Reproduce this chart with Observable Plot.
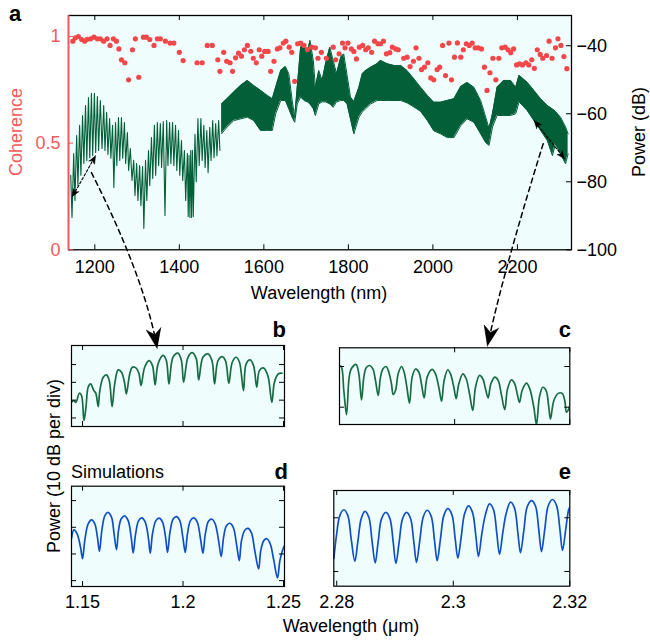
<!DOCTYPE html>
<html>
<head>
<meta charset="utf-8">
<script src="https://cdn.jsdelivr.net/npm/d3@7"></script>
<script src="https://cdn.jsdelivr.net/npm/@observablehq/plot@0.6"></script>
<style>
html,body{margin:0;padding:0;background:#ffffff;}
#fig{position:relative;width:650px;height:640px;overflow:hidden;font-family:"Liberation Sans",Arial,Helvetica,sans-serif;color:#000;}
#fig svg{position:absolute;overflow:visible;}
.lbl{position:absolute;white-space:nowrap;}
</style>
</head>
<body>
<div id="fig"></div>
<script>
// ================= DATA =================
// Panel a: scales / ticks
const aXDomain = [1137.7, 2328];
const powerDomain = [-100, -31.1];
const cohDomain = [0, 1.0985];
const aXTicks = [1200, 1400, 1600, 1800, 2000, 2200];
const powerTicks = [-100, -80, -60, -40];
const cohTicks = [0, 0.5, 1];

// Coherence (red dots)
const cohLam = [
 1148,1154,1161,1169,1176,1182,1190,1198,1206,1213,
 1221,1229,1236,1244,1251,1257,1263,1271,1280,1289,
 1296,1304,1315,1322,1330,1340,1348,1355,1367,1378,
 1387,1400,1409,1442,1454,1466,1478,1491,1496,1505,
 1512,1520,1526,1533,1540,1547,1554,1561,1569,1575,
 1582,1589,1595,1602,1610,1616,1624,1632,1638,1646,
 1652,1660,1666,1673,1680,1687,1695,1703,1713,1722,
 1728,1736,1748,1764,1770,1778,1786,1792,1799,1807,
 1813,1819,1826,1834,1841,1847,1855,1862,1870,1876,
 1883,1890,1898,1904,1912,1918,1931,1939,1946,1954,
 1960,1967,1973,1980,1988,1995,2002,2010,2016,2023,
 2030,2038,2044,2051,2058,2066,2072,2079,2086,2093,
 2100,2107,2115,2122,2128,2135,2142,2149,2156,2163,
 2171,2178,2184,2191,2198,2205,2212,2220,2227,2234,
 2240,2247,2254,2260,2269,2275,2282,2290,2296,2303,
 2310,2317];
const cohVal = [
 0.978,0.994,1.0,0.986,0.978,0.987,0.989,0.997,0.989,0.989,
 0.978,0.989,0.958,0.989,0.978,0.942,0.891,0.877,0.797,0.938,
 0.989,0.809,0.997,0.997,0.986,0.958,0.989,0.989,0.978,0.969,
 0.969,0.926,0.887,0.877,0.877,0.958,0.958,0.891,0.837,0.926,
 0.884,0.877,0.837,0.900,0.922,0.908,0.938,0.958,0.931,0.898,
 0.877,0.938,0.908,0.930,0.930,0.837,0.884,0.942,0.947,0.969,
 0.978,0.950,0.926,0.790,0.966,0.969,0.958,0.939,0.950,0.947,
 0.898,0.926,0.898,0.950,0.891,0.919,0.969,0.947,0.969,0.942,
 0.930,0.895,0.950,0.958,0.938,0.947,0.926,0.978,0.966,0.966,
 0.978,0.919,0.924,0.950,0.942,0.938,0.898,0.903,0.859,0.884,
 0.947,0.898,0.845,0.856,0.877,0.806,0.797,0.845,0.856,0.958,
 0.817,0.969,0.797,0.903,0.970,0.903,0.938,0.966,0.958,0.969,
 0.947,0.947,0.942,0.856,0.747,0.830,0.898,0.797,0.898,0.947,
 0.950,0.938,0.924,0.942,0.867,0.872,0.867,0.877,0.867,0.891,
 0.851,0.938,0.916,0.898,0.911,0.978,0.898,0.947,0.989,0.958,
 0.906,0.849];

// Spectrum, resolved fringes 1140-1500 nm: [peak nm, peak dB, trough nm, trough dB]
const sparseFringes = [
 [1143,-78.1,1146,-90.5],[1150,-71.7,1153,-85.5],[1157,-66.4,1160,-81.1],[1164,-63.4,1167,-78.1],
 [1171,-60.5,1174,-74.6],[1178,-57.6,1181,-73.7],[1185,-55.2,1188,-72.9],[1192,-54.0,1195,-72.3],
 [1199,-54.0,1202,-71.4],[1206,-54.9,1209,-70.8],[1213,-56.1,1217,-70.2],[1221,-57.6,1224,-70.8],
 [1228,-59.6,1231,-72.0],[1235,-61.4,1238,-73.1],[1242,-63.4,1245,-81.7],[1249,-62.6,1252,-75.2],
 [1256,-61.1,1259,-73.7],[1263,-61.1,1266,-73.1],[1270,-62.6,1273,-74.6],[1277,-65.5,1280,-76.7],
 [1284,-70.2,1288,-79.6],[1292,-73.7,1295,-84.0],[1299,-74.6,1302,-85.5],[1306,-75.2,1309,-87.0],
 [1313,-75.5,1316,-93.7],[1320,-73.7,1323,-85.5],[1327,-70.8,1330,-81.1],[1334,-67.0,1337,-79.0],
 [1341,-63.4,1344,-78.1],[1348,-62.6,1351,-75.2],[1355,-62.9,1358,-75.8],[1362,-62.3,1366,-89.9],
 [1370,-62.0,1373,-75.2],[1377,-62.6,1380,-74.6],[1384,-62.6,1387,-75.2],[1391,-63.4,1394,-76.7],
 [1398,-64.9,1401,-78.1],[1405,-67.9,1408,-79.6],[1412,-70.8,1415,-85.5],[1419,-71.7,1421,-90.2],
 [1423,-72.3,1425,-90.5],[1427,-70.8,1429,-90.5],[1431,-70.8,1433,-90.2],[1437,-66.0,1440,-80.0],
 [1444,-61.4,1447,-75.2],[1451,-61.4,1454,-73.7],[1458,-63.4,1461,-75.8],[1465,-64.9,1468,-77.3],
 [1472,-64.0,1475,-73.7],[1479,-62.0,1482,-72.9],[1486,-62.9,1489,-72.3],[1493,-62.0,1496,-70.8]];

// Spectrum, dense fringes 1500-2320 nm: upper / lower envelope (dB)
const bandLam = [
 1500,1513,1529,1545,1561,1576,1592,1608,1620,1628,
 1640,1651,1659,1667,1673,1679,1687,1695,1703,1709,
 1717,1722,1730,1738,1746,1756,1764,1772,1782,1789,
 1797,1805,1813,1825,1833,1841,1853,1868,1876,1892,
 1908,1924,1939,1955,1971,1987,2002,2018,2034,2050,
 2066,2081,2097,2113,2125,2133,2141,2152,2168,2184,
 2196,2204,2223,2239,2255,2271,2283,2290,2302,2314,
 2320];
const bandHi = [
 -57.1,-55.6,-53.6,-51.7,-50.2,-51.7,-53.1,-54.6,-55.6,-52.2,
 -47.3,-46.1,-48.2,-56.1,-61,-52.2,-40.4,-39.4,-42.4,-38.4,
 -44.3,-52.2,-47.3,-50.2,-45.3,-40.4,-44.3,-48.2,-43.4,-42.4,
 -48.7,-55.1,-56.4,-52.2,-48.2,-47.3,-46.3,-45.3,-44.3,-45.3,
 -45.8,-45.8,-47.3,-49.7,-52.2,-54.6,-56.6,-56.6,-56.1,-55.6,
 -52,-50.8,-52.2,-56.1,-61,-64.3,-60,-52.2,-50.2,-50.2,
 -52.2,-48.7,-50.7,-53.1,-55.6,-57.6,-58.6,-59.3,-61,-63.9,
 -65.9];
const bandLo = [
 -65.9,-63.9,-62,-61.5,-61,-62,-64.9,-64.9,-64.9,-60,
 -56.1,-56.1,-58.5,-61,-62.5,-57.1,-55.1,-56.1,-56.5,-57.1,
 -58.5,-60.5,-57.1,-56.5,-56.5,-57.1,-58.1,-56.5,-56.1,-56.1,
 -57.1,-61.5,-65.9,-61,-59.5,-58.5,-57.1,-56.1,-56.1,-56.1,
 -56.1,-56.1,-56.8,-58,-59.3,-62,-65,-65.9,-67,-67,
 -63.5,-61.5,-62.5,-65.9,-68.5,-69.3,-63.9,-60.5,-60.5,-60.5,
 -60,-56.5,-59,-62,-64.9,-67.9,-72.3,-68.8,-71.8,-74.7,
 -71.8];

// Inset b (measured, 1.15-1.25 um), relative dB
const bLam = [
 1.1445,1.1457,1.1467,1.1484,1.1495,1.1507,1.1517,1.1528,1.154,1.1556,
 1.1566,1.1578,1.1586,1.1603,1.1619,1.1633,1.1647,1.166,1.1677,1.1694,
 1.171,1.1718,1.1735,1.1748,1.1768,1.1781,1.1791,1.1809,1.1831,1.1848,
 1.1861,1.1876,1.1901,1.1917,1.193,1.195,1.1975,1.1992,1.2003,1.2025,
 1.2046,1.2066,1.2078,1.2099,1.2124,1.2144,1.2157,1.2174,1.2195,1.2212,
 1.2228,1.2245,1.2265,1.2281,1.2301,1.2314,1.2334,1.2351,1.2367,1.238,
 1.24,1.2422,1.2442,1.2455,1.2475,1.2493];
const bDb = [
 -21.2,-20.2,-21.2,-16.1,-17.4,-31.5,-24,-12.7,-10.9,-14.6,
 -16.1,-23.6,-14.6,-7.1,-5.8,-9,-23.6,-10.9,-3,-4.3,
 -10.9,-16.5,-5.2,-1.5,-2.1,-5.2,-11.8,-1.5,2.2,-0.6,
 -11.4,0.4,5.1,2.2,-10.9,4.1,6.4,2.2,-9.9,4.1,
 6.7,3.2,-8.6,4.1,6,2.2,-10.9,2.2,4.5,1.9,
 -10.5,1.3,4.1,1.3,-14.6,0.4,2.6,-0.6,-12.7,-3.4,
 -1.9,-6.2,-21.2,-9.9,-5.2,-4.9];

// Inset c (measured, 2.28-2.32 um)
const cLam = [
 2.28,2.28035,2.28075,2.28122,2.28162,2.28191,2.28249,2.2829,2.28336,2.28382,
 2.28423,2.28463,2.28521,2.28579,2.28625,2.28672,2.28712,2.28753,2.2881,2.28857,
 2.28903,2.28932,2.28973,2.29019,2.29077,2.29123,2.2917,2.29216,2.29262,2.2932,
 2.29378,2.29424,2.29471,2.29523,2.29609,2.29667,2.29725,2.29772,2.29818,2.29881,
 2.29928,2.29986,2.30026,2.30072,2.30142,2.302,2.30258,2.30315,2.30362,2.30431,
 2.30489,2.30536,2.30582,2.30628,2.30698,2.30756,2.30814,2.30871,2.30918,2.30987,
 2.31045,2.31086,2.31126,2.31172,2.31248,2.31305,2.31375,2.31421,2.31473,2.31531,
 2.31589,2.31635,2.31664,2.31722,2.31798,2.31867,2.31913,2.31942,2.31983,2.32];
const cDb = [
 0.25,-0.16,-5.9,-11.8,-3.4,-1,0.25,0.5,-1.8,-8.2,
 -2.6,-0.3,0.25,-0.6,-3.4,-7.1,-2.6,-0.6,0,-1.4,
 -4.3,-6.9,-5.9,-1.8,0,-1.4,-5.1,-9,-2.6,-0.6,
 -1.4,-4.3,-7.7,-2.6,-0.7,-1.8,-5.1,-8.5,-3.4,-0.8,
 -1.8,-5.1,-7.9,-4.3,-1.8,-3,-6.7,-10.8,-5.1,-2.2,
 -3,-5.5,-7.7,-4.3,-2.6,-3.4,-7.1,-10.6,-5.5,-3.3,
 -4.3,-6.7,-8.8,-5.9,-4.1,-5.5,-10,-14.3,-7.5,-5.1,
 -5.9,-10,-12.9,-8.4,-6.6,-6.6,-8.4,-11.2,-10.4,-9.6];

// Inset d (simulation, 1.15-1.25 um)
const dLam = [
 1.1445,1.1457,1.1473,1.149,1.15,1.1511,1.1528,1.1545,1.1561,1.1574,
 1.1584,1.1596,1.1611,1.1626,1.1644,1.1657,1.1669,1.1679,1.1692,1.1709,
 1.1727,1.1742,1.1752,1.1764,1.1779,1.1795,1.1812,1.1827,1.1837,1.1848,
 1.1865,1.1882,1.1898,1.1913,1.1923,1.1935,1.1951,1.1968,1.1984,1.1999,
 1.2011,1.2022,1.2037,1.2054,1.2071,1.2087,1.2099,1.2111,1.2127,1.2144,
 1.216,1.2177,1.219,1.2202,1.2216,1.2233,1.225,1.2266,1.228,1.2291,
 1.2308,1.2324,1.2341,1.2357,1.2376,1.2387,1.2402,1.2417,1.2434,1.2452,
 1.247,1.2482,1.2495,1.2505];
const dDb = [
 -14.3,-11,-12.5,-17.5,-21.8,-15,-8.7,-7.2,-8.7,-13.7,
 -19,-11.2,-5.6,-4.4,-6.2,-12.5,-18.4,-11.2,-6.9,-5.7,
 -7.5,-13.7,-19.6,-12.5,-7.5,-6.5,-8.1,-13.7,-19.7,-12.5,
 -7.5,-6.6,-8.1,-13.7,-19.4,-11.9,-6.9,-6,-7.5,-13.7,
 -19.4,-12.5,-7.5,-6.5,-8.1,-14.3,-19.7,-12.5,-7.7,-7,
 -8.7,-15,-21,-13.7,-9.4,-8.5,-10,-16.2,-22.5,-15,
 -11,-10.4,-12.2,-18.7,-25.6,-18.7,-15,-14.3,-16.2,-22.5,
 -29,-22.5,-18.7,-16.9];

// Inset e (simulation, 2.28-2.32 um)
const eLam = [
 2.2795,2.27996,2.28053,2.28122,2.28191,2.28248,2.28311,2.28362,2.2842,2.28483,
 2.28551,2.28608,2.2866,2.28711,2.28769,2.28843,2.28912,2.28969,2.29015,2.29072,
 2.29129,2.29198,2.29266,2.29323,2.29369,2.29426,2.29484,2.29552,2.29621,2.29678,
 2.29724,2.29781,2.29838,2.29907,2.29976,2.30033,2.30079,2.30136,2.30193,2.30262,
 2.3033,2.30387,2.30433,2.3049,2.30548,2.30622,2.30691,2.30748,2.30794,2.30851,
 2.30908,2.30982,2.31051,2.31108,2.31154,2.31211,2.31268,2.31343,2.31411,2.31469,
 2.31514,2.31572,2.31629,2.31703,2.31772,2.31829,2.31875,2.31932,2.31978,2.32];
const eDb = [
 -7.6,-3.3,0.4,1.5,0.4,-3.9,-8.1,-4.5,-0.2,1.2,
 0.1,-4.5,-8.4,-4.5,-0.2,1,-0.1,-4.5,-8.5,-4.5,
 -0.2,1,-0.1,-4.5,-8.3,-4.2,0.1,1.4,0.3,-4.2,
 -8,-3.9,0.4,1.7,0.6,-3.9,-7.5,-3.6,0.7,2.2,
 1,-3.3,-7.2,-3,0.4,2.6,1.5,-3,-6.8,-2.7,
 0.8,2.9,1.8,-2.7,-6.5,-2.4,2,3.2,2.2,-2.4,
 -6.3,-2,2.2,3.4,2.3,-2,-6.1,-2,1.4,2];

// Inset tick values
const shortTicks = [1.15, 1.2, 1.25];
const longTicks = [2.28, 2.3, 2.32];

// ================= STYLE / LAYOUT =================
const FONT = '"Liberation Sans", Arial, Helvetica, sans-serif';
const BG = "#effefd";
const GREEN_A = "#035f38";
const GREEN_IN = "#186c44";
const BLUE = "#1050c4";
const RED = "#f2474a";
const AXRED = "#f05b5b";
const TL = 5;
const plainFmt = d => String(d);
const minusFmt = d => (d < 0 ? "\u2212" : "") + String(Math.abs(d));

const fig = document.getElementById("fig");
function place(svg, left, top) {
  svg.style.position = "absolute";
  svg.style.left = left + "px";
  svg.style.top = top + "px";
  fig.appendChild(svg);
  return svg;
}
const baseStyle = (color) => ({fontFamily: FONT, fontSize: "18px", background: "none", overflow: "visible", color});

// ================= PANEL a =================
const A = {left: 0, top: 0, width: 650, height: 300, ml: 68, mr: 79, mt: 15, mb: 50.7};
const aInnerW = A.width - A.ml - A.mr, aInnerH = A.height - A.mt - A.mb;

const sparse = [];
sparseFringes.forEach(([lp, hi, lt, lo]) => { sparse.push({lam: lp, p: hi}); sparse.push({lam: lt, p: lo}); });
const band = bandLam.map((l, i) => ({lam: l, hi: bandHi[i], lo: bandLo[i]}));
const coh = cohLam.map((l, i) => ({lam: l, c: cohVal[i]}));

const plotA1 = Plot.plot({
  width: A.width, height: A.height,
  marginLeft: A.ml, marginRight: A.mr, marginTop: A.mt, marginBottom: A.mb,
  style: baseStyle("#000"),
  x: {domain: aXDomain, label: null},
  y: {domain: powerDomain, label: null},
  marks: [
    Plot.frame({fill: BG, stroke: "none"}),
    Plot.areaY(band, {x: "lam", y1: "lo", y2: "hi", fill: GREEN_A}),
    Plot.line(band, {x: "lam", y: "hi", stroke: GREEN_A, strokeWidth: 1}),
    Plot.line(band, {x: "lam", y: "lo", stroke: GREEN_A, strokeWidth: 1}),
    Plot.line(sparse, {x: "lam", y: "p", stroke: GREEN_A, strokeWidth: 1.1}),
    Plot.tickX(aXTicks, {x: d => d, insetBottom: aInnerH - TL}),
    Plot.tickX(aXTicks, {x: d => d, insetTop: aInnerH - TL}),
    Plot.tickY(powerTicks, {y: d => d, insetLeft: aInnerW - TL}),
    Plot.axisX(aXTicks, {tickSize: 0, tickPadding: 10, label: null, tickFormat: plainFmt}),
    Plot.axisY(powerTicks, {anchor: "right", tickSize: 0, tickPadding: 5, label: null, tickFormat: minusFmt}),
    Plot.frame({stroke: "#000", strokeWidth: 1.3})
  ]
});
place(plotA1, A.left, A.top);

const plotA2 = Plot.plot({
  width: A.width, height: A.height,
  marginLeft: A.ml, marginRight: A.mr, marginTop: A.mt, marginBottom: A.mb,
  style: baseStyle(AXRED),
  x: {domain: aXDomain, axis: null, label: null},
  y: {domain: cohDomain, label: null},
  marks: [
    Plot.dot(coh, {x: "lam", y: "c", r: 2.6, fill: RED}),
    Plot.ruleX([aXDomain[0]], {stroke: AXRED, strokeWidth: 1.6}),
    Plot.tickY(cohTicks, {y: d => d, stroke: AXRED, insetRight: aInnerW - TL}),
    Plot.axisY(cohTicks, {anchor: "left", tickSize: 0, tickPadding: 8, label: null, tickFormat: plainFmt})
  ]
});
place(plotA2, A.left, A.top);

// ================= INSETS =================
const insetCfg = {
  b: {lam: bLam, db: bDb, color: GREEN_IN, left: 0, top: 335, width: 300, height: 100, ml: 71, mr: 16, mt: 10, mb: 9,
      xDomain: [1.1445, 1.2505], yDomain: [-34.8, 10.7], xTicks: shortTicks, yTicks: [-30, -20, -10, 0], labels: false},
  c: {lam: cLam, db: cDb, color: GREEN_IN, left: 320, top: 335, width: 300, height: 100, ml: 19, mr: 50.7, mt: 12.3, mb: 11,
      xDomain: [2.28, 2.32], yDomain: [-14.25, 4.6], xTicks: longTicks, yTicks: [-10, 0], labels: false},
  d: {lam: dLam, db: dDb, color: BLUE, left: 0, top: 475, width: 300, height: 150, ml: 71, mr: 16, mt: 10.7, mb: 39,
      xDomain: [1.1445, 1.2505], yDomain: [-32.2, 5.4], xTicks: shortTicks, yTicks: [-30, -20, -10, 0], labels: true},
  e: {lam: eLam, db: eDb, color: BLUE, left: 320, top: 475, width: 300, height: 150, ml: 13.3, mr: 50.7, mt: 15, mb: 39.3,
      xDomain: [2.2795, 2.32], yDomain: [-12.74, 5.08], xTicks: longTicks, yTicks: [-10, 0], labels: true}
};
const insetPlots = {};
for (const [key, cfg] of Object.entries(insetCfg)) {
  const iw = cfg.width - cfg.ml - cfg.mr, ih = cfg.height - cfg.mt - cfg.mb;
  const data = cfg.lam.map((l, i) => ({lam: l, db: cfg.db[i]}));
  const marks = [
    Plot.frame({fill: BG, stroke: "none"}),
    Plot.line(data, {x: "lam", y: "db", stroke: cfg.color, strokeWidth: 1.7, curve: "catmull-rom", clip: true}),
    Plot.tickX(cfg.xTicks, {x: d => d, insetBottom: ih - TL}),
    Plot.tickX(cfg.xTicks, {x: d => d, insetTop: ih - TL}),
    Plot.tickY(cfg.yTicks, {y: d => d, insetRight: iw - TL}),
    Plot.tickY(cfg.yTicks, {y: d => d, insetLeft: iw - TL}),
    Plot.frame({stroke: "#000", strokeWidth: 1.2})
  ];
  if (cfg.labels) marks.push(Plot.axisX(cfg.xTicks, {tickSize: 0, tickPadding: 9, label: null, tickFormat: plainFmt}));
  const xOpt = {domain: cfg.xDomain, label: null};
  if (!cfg.labels) xOpt.axis = null;
  const p = Plot.plot({
    width: cfg.width, height: cfg.height,
    marginLeft: cfg.ml, marginRight: cfg.mr, marginTop: cfg.mt, marginBottom: cfg.mb,
    style: baseStyle("#000"),
    x: xOpt,
    y: {domain: cfg.yDomain, axis: null, label: null},
    marks
  });
  insetPlots[key] = {plot: p, left: cfg.left, top: cfg.top};
  place(p, cfg.left, cfg.top);
}

// ================= ANNOTATION ARROWS =================
// endpoints given in each panel's own data coordinates
const connectors = [
  {id: "toB", from: ["a", 1192, -77.3], to: ["b", 1.1872, 9.0], t0: 0.62, bend: -13, dash: "5,4", width: 1.5, heads: "end", L: 20, W: 7.5, notch: 6},
  {id: "toC", from: ["a", 2261, -68.8], to: ["c", 2.3057, 5.0], t0: 0.66, bend: 4.5, dash: "5,4", width: 1.5, heads: "end", L: 20, W: 7.5, notch: 6},
  {id: "spanL", from: ["a", 1146.5, -84.5], to: ["a", 1201.7, -72.3], t0: 0.5, bend: 0, dash: "2.5,2", width: 1.1, heads: "both", L: 8, W: 3.3, notch: 2},
  {id: "spanR", from: ["a", 2239, -62], to: ["a", 2312, -73.2], t0: 0.5, bend: 0, dash: "2.5,2", width: 1.1, heads: "both", L: 8, W: 3.3, notch: 2}
];
function pagePt([panel, x, y]) {
  const P = panel === "a" ? {plot: plotA1, left: A.left, top: A.top} : insetPlots[panel];
  return [P.left + P.plot.scale("x").apply(x), P.top + P.plot.scale("y").apply(y)];
}
function headPoly(tip, from, L, W, notch) {
  const dx = tip[0] - from[0], dy = tip[1] - from[1], len = Math.hypot(dx, dy);
  const ux = dx / len, uy = dy / len, nx = -uy, ny = ux;
  const bx = tip[0] - L * ux, by = tip[1] - L * uy;
  return [tip, [bx + W * nx, by + W * ny], [tip[0] - (L - notch) * ux, tip[1] - (L - notch) * uy], [bx - W * nx, by - W * ny]];
}
const lineRows = [], headRows = [];
for (const c of connectors) {
  const p0 = pagePt(c.from), p2 = pagePt(c.to);
  const dx = p2[0] - p0[0], dy = p2[1] - p0[1], len = Math.hypot(dx, dy);
  const nx = -dy / len, ny = dx / len;
  const p1 = [p0[0] + c.t0 * dx + c.bend * nx, p0[1] + c.t0 * dy + c.bend * ny];
  const trim = c.L - c.notch;
  const n = 60;
  for (let i = 0; i <= n; i++) {
    const t = i / n, a = (1 - t) * (1 - t), b = 2 * (1 - t) * t, q = t * t;
    const pt = [a * p0[0] + b * p1[0] + q * p2[0], a * p0[1] + b * p1[1] + q * p2[1]];
    const dEnd = Math.hypot(pt[0] - p2[0], pt[1] - p2[1]);
    const dStart = Math.hypot(pt[0] - p0[0], pt[1] - p0[1]);
    if (dEnd < trim) continue;
    if (c.heads === "both" && dStart < trim) continue;
    lineRows.push({id: c.id, x: pt[0], y: pt[1]});
  }
  headPoly(p2, p1, c.L, c.W, c.notch).forEach(([x, y]) => headRows.push({id: c.id + "-end", x, y}));
  if (c.heads === "both") headPoly(p0, p1, c.L, c.W, c.notch).forEach(([x, y]) => headRows.push({id: c.id + "-start", x, y}));
}
const overlay = Plot.plot({
  width: 650, height: 640, margin: 0,
  style: baseStyle("#000"),
  x: {type: "identity", axis: null},
  y: {type: "identity", axis: null},
  marks: [
    ...connectors.map(c => Plot.line(lineRows.filter(r => r.id === c.id), {x: "x", y: "y", stroke: "#000", strokeWidth: c.width, strokeDasharray: c.dash})),
    Plot.line(headRows, {x: "x", y: "y", z: "id", fill: "#000", stroke: "#000", strokeWidth: 0.6})
  ]
});
overlay.style.pointerEvents = "none";
place(overlay, 0, 0);

// ================= TEXT =================
const textLabels = [
  {text: "a", x: 9, y: 22, size: 22, weight: "bold"},
  {text: "Coherence", x: 16, y: 132, rotate: true, color: AXRED},
  {text: "Power (dB)", x: 639, y: 132, rotate: true},
  {text: "Wavelength (nm)", x: 319, y: 299, anchor: "middle"},
  {text: "b", x: 286, y: 338, size: 22, weight: "bold", anchor: "end"},
  {text: "c", x: 571, y: 338, size: 22, weight: "bold", anchor: "end"},
  {text: "d", x: 288, y: 480, size: 22, weight: "bold", anchor: "end"},
  {text: "e", x: 571, y: 480, size: 22, weight: "bold", anchor: "end"},
  {text: "Simulations", x: 71, y: 478},
  {text: "Power (10 dB per div)", x: 54, y: 466, rotate: true},
  {text: "Wavelength (μm)", x: 351, y: 632, anchor: "middle"}
];
function addText(o) {
  const d = document.createElement("div");
  d.className = "lbl";
  d.textContent = o.text;
  const s = o.size || 18;
  d.style.fontSize = s + "px";
  d.style.lineHeight = s + "px";
  if (o.weight) d.style.fontWeight = o.weight;
  if (o.color) d.style.color = o.color;
  if (o.rotate) {
    d.style.left = o.x + "px";
    d.style.top = o.y + "px";
    d.style.transform = "translate(-50%,-50%) rotate(-90deg)";
  } else {
    d.style.top = (o.y - 0.8465 * s) + "px";
    if (o.anchor === "middle") { d.style.left = o.x + "px"; d.style.transform = "translateX(-50%)"; }
    else if (o.anchor === "end") { d.style.right = (650 - o.x) + "px"; }
    else d.style.left = o.x + "px";
  }
  fig.appendChild(d);
}
textLabels.forEach(addText);
</script>
</body>
</html>
